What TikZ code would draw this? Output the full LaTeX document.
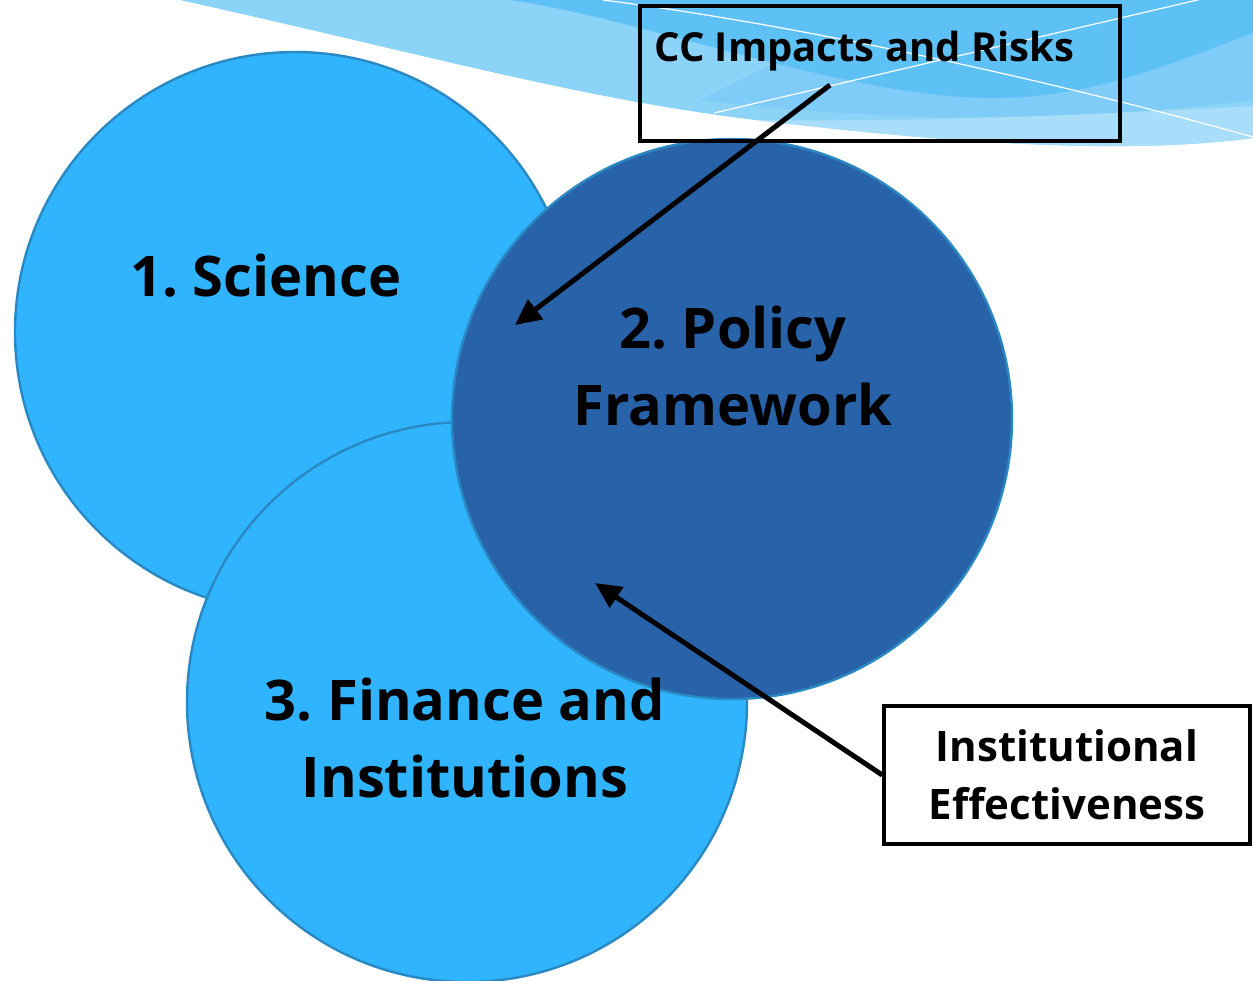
\documentclass[tikz,border=0pt]{standalone}
\usepackage{fontspec}
\setmainfont{Open Sans}
\frenchspacing
\usetikzlibrary{arrows.meta}
\definecolor{skyblue}{HTML}{31B4FE}
\definecolor{policyblue}{HTML}{2862A9}
\definecolor{rimblue}{HTML}{2A88C2}
\definecolor{wavemid}{HTML}{8CD3F8}
\definecolor{wavedark}{HTML}{5EC1F5}
\definecolor{wavetone}{HTML}{7ECCF7}
\definecolor{wavepale}{HTML}{A8DEFA}

\begin{document}
\begin{tikzpicture}[x=0.5pt,y=-0.5pt]

\tikzstyle{ring}=[circle, draw=rimblue, line width=1.2pt, minimum size=280pt, inner sep=0pt]
\tikzstyle{bigtext}=[font=\fontsize{28}{38.5}\selectfont\bfseries, align=center, inner sep=0pt]
\tikzstyle{framebox}=[rectangle, draw, line width=1.75pt, inner sep=0pt]
\tikzstyle{arrow}=[-{Triangle[length=13pt,width=12pt]}, line width=2.5pt]

\useasboundingbox (0,0) rectangle (1253,980);

\begin{scope}
\clip (180,0) .. controls (450,60) and (600,105) .. (800,125) .. controls (1000,148) and (1150,152) .. (1253,138) -- (1253,0) -- cycle;
\fill [wavemid] (0,0) rectangle (1253,160);
\fill [wavetone] (700,100) .. controls (900,125) and (1100,120) .. (1253,100) -- (1253,0) -- (900,0) -- cycle;
\fill [wavedark] (510,0) .. controls (650,20) and (850,100) .. (1000,98) .. controls (1100,96) and (1180,60) .. (1253,33) -- (1253,0) -- cycle;
\fill [wavepale] (760,120) .. controls (950,122) and (1100,114) .. (1253,106) -- (1253,160) -- (760,160) -- cycle;
\draw [white, line width=0.6pt] (603,0) .. controls (800,25) and (1050,80) .. (1253,137);
\draw [white, line width=0.6pt] (714,113) -- (1253,-13);
\end{scope}

\node (S) [ring, fill=skyblue] at (295,332) {};
\node (F) [ring, fill=skyblue] at (467,702) {};
\node (P) [ring, fill=policyblue] at (732,419) {};

\node (St) [bigtext] at (266,276) {1. Science};
\node (Pt) [bigtext] at (733,366) {2. Policy\\Framework};
\node (Ft) [bigtext] at (465,738) {3. Finance and\\Institutions};

\node (CC) [framebox, minimum width=240pt, minimum height=67.5pt] at (880,73.5) {};
\node (CCt) [anchor=base, font=\fontsize{20}{24}\selectfont\bfseries, inner sep=0pt] at (864.5,61) {CC Impacts and Risks};
\node (IE) [framebox, minimum width=183pt, minimum height=69pt, align=center, font=\fontsize{21}{29}\selectfont\bfseries] at (1067,775) {Institutional\\Effectiveness};

\coordinate (CCfoot) at (830,85);
\coordinate (Pin1) at (515,325);
\coordinate (Pin2) at (595,583);
\draw [arrow] (CCfoot) -- (Pin1);
\draw [arrow] (IE.west) -- (Pin2);

\end{tikzpicture}
\end{document}
